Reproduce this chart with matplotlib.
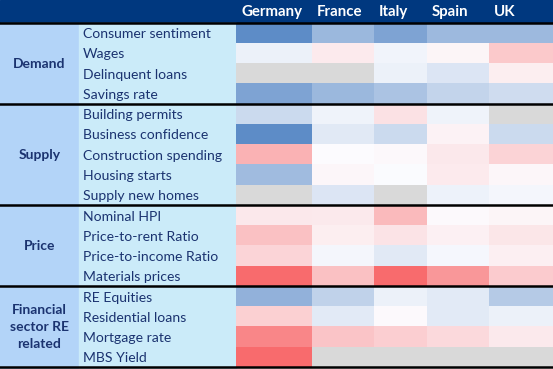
import numpy as np
import matplotlib
matplotlib.use("Agg")
import matplotlib.pyplot as plt
from matplotlib.colors import LinearSegmentedColormap
from matplotlib.patches import Rectangle

countries = ["Germany", "France", "Italy", "Spain", "UK"]
groups = ["Demand", "Supply", "Price", "Financial\nsector RE\nrelated"]
group_sizes = [4, 5, 4, 4]
indicators = [
    "Consumer sentiment", "Wages", "Delinquent loans", "Savings rate",
    "Building permits", "Business confidence", "Construction spending",
    "Housing starts", "Supply new homes",
    "Nominal HPI", "Price-to-rent Ratio", "Price-to-income Ratio", "Materials prices",
    "RE Equities", "Residential loans", "Mortgage rate", "MBS Yield",
]
nan = np.nan
# score per indicator (rows) and country (cols): -1 = blue, +1 = red, nan = grey
scores = np.array([
    [-0.98, -0.60, -0.78, -0.58, -0.58],
    [-0.10, 0.12, -0.07, 0.05, 0.35],
    [nan, nan, -0.10, -0.20, 0.10],
    [-0.78, -0.60, -0.50, -0.35, -0.28],
    [-0.30, -0.08, 0.18, -0.08, nan],
    [-0.98, -0.17, -0.30, 0.07, -0.30],
    [0.50, 0.00, 0.03, 0.14, 0.28],
    [-0.57, 0.04, -0.01, 0.12, 0.04],
    [nan, -0.20, nan, -0.09, -0.05],
    [0.14, 0.13, 0.45, 0.02, 0.05],
    [0.40, 0.10, 0.17, 0.08, 0.15],
    [0.27, -0.05, -0.17, -0.04, 0.09],
    [0.98, 0.40, 0.98, 0.68, 0.33],
    [-0.65, -0.37, -0.10, -0.16, -0.43],
    [0.30, -0.16, 0.02, -0.16, -0.10],
    [0.80, 0.38, 0.31, 0.24, 0.13],
    [0.98, nan, nan, nan, nan],
])

# layout in pixels
W, H = 553, 369
head_h = 22.5
row_h = (367 - head_h) / len(indicators)
group_w = 79
label_w = 236
col_w = [76, 62, 53, 62, 64]
navy = "#1B3370"

cmap = LinearSegmentedColormap.from_list("rwb", ["#5A8AC6", "#FCFCFF", "#F8696B"])
cmap.set_bad("#D9D9D9")

fig = plt.figure(figsize=(W / 100, H / 100), dpi=100)
ax = fig.add_axes([0, 0, 1, 1])
ax.set_xlim(0, W)
ax.set_ylim(H, 0)
ax.axis("off")

# header band
ax.add_patch(Rectangle((0, 0), W, head_h, color="#00387F"))
xedges = label_w + np.concatenate([[0], np.cumsum(col_w)])
for i, c in enumerate(countries):
    ax.text(xedges[i] + 5, head_h / 2 + 1, c, color="white", fontsize=10.8,
            fontweight="bold", family="Lato", ha="left", va="center")

# label columns
ax.add_patch(Rectangle((0, head_h), group_w, H - head_h, color="#B3D4F8"))
ax.add_patch(Rectangle((group_w, head_h), label_w - group_w, H - head_h, color="#CBEBF9"))

# heat cells
yedges = head_h + row_h * np.arange(len(indicators) + 1)
ax.pcolormesh(xedges, yedges, np.ma.masked_invalid(scores), cmap=cmap, vmin=-1, vmax=1)

for i, name in enumerate(indicators):
    ax.text(group_w + 4, yedges[i] + row_h / 2 + 1.5, name, color=navy, fontsize=10.1,
            family="Lato", ha="left", va="center")

start = 0
for g, n in zip(groups, group_sizes):
    y0, y1 = yedges[start], yedges[start + n]
    ax.text(group_w / 2, (y0 + y1) / 2 + 0.5, g, color=navy, fontsize=10, fontweight="bold",
            family="Lato", ha="center", va="center", linespacing=1.5)
    start += n

bounds = [yedges[0]] + [yedges[k] for k in np.cumsum(group_sizes)]
for y in bounds:
    ax.axhline(y, color="black", lw=1.8)

fig.savefig("out.png", dpi=100)
